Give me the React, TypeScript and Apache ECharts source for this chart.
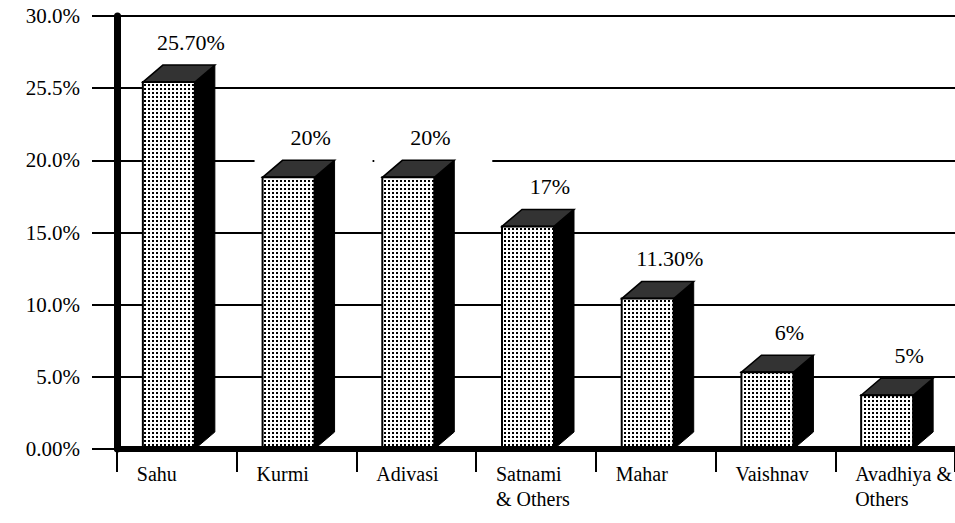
import React, { useEffect, useRef } from "react";
import * as echarts from "echarts";

const categories = ["Sahu", "Kurmi", "Adivasi", "Satnami\n& Others", "Mahar", "Vaishnav", "Avadhiya &\nOthers"];
const barValues = [26.6, 20, 20, 16.6, 11.6, 6.5, 4.9];
const valueLabels = ["25.70%", "20%", "20%", "17%", "11.30%", "6%", "5%"];
const yTickLabels = ["0.00%", "5.0%", "10.0%", "15.0%", "20.0%", "25.5%", "30.0%"];
const maskedLabelCategories = ["Kurmi", "Adivasi"];

const FONT = "Liberation Serif";

export default function App() {
  const ref = useRef<HTMLDivElement>(null);
  useEffect(() => {
    if (!ref.current) return;
    const chart = echarts.init(ref.current, undefined, { renderer: "svg" });

    const cv = document.createElement("canvas");
    cv.width = 4;
    cv.height = 4;
    const ctx = cv.getContext("2d")!;
    ctx.fillStyle = "#ffffff";
    ctx.fillRect(0, 0, 4, 4);
    ctx.fillStyle = "#000000";
    ctx.fillRect(0, 0, 2, 2);
    const pattern: any = { image: cv, repeat: "repeat", imageWidth: 4, imageHeight: 4 };

    const W = 52, DX = 20, DY = 17, OFF = -34;

    const option: any = {
      animation: false,
      backgroundColor: "#ffffff",
      textStyle: { fontFamily: FONT },
      grid: { left: 117, right: 0, top: 16, bottom: 74 },
      xAxis: {
        type: "category",
        data: categories,
        z: 10,
        axisLine: { show: true, lineStyle: { color: "#000", width: 6 } },
        axisTick: { show: true, length: 23, lineStyle: { color: "#000", width: 2 } },
        axisLabel: {
          interval: 0,
          margin: 12,
          color: "#000",
          fontFamily: FONT,
          fontSize: 20,
          formatter: (v: string) => v.split("\n").map((s) => `{a|${s}}`).join("\n"),
          rich: {
            a: { width: 80, align: "left", fontSize: 20, fontFamily: FONT, color: "#000", lineHeight: 25 },
          },
        },
        splitLine: { show: false },
      },
      yAxis: {
        type: "value",
        min: 0,
        max: 30,
        interval: 5,
        axisLine: { show: true, lineStyle: { color: "#000", width: 7 } },
        axisTick: { show: true, length: 25, lineStyle: { color: "#000", width: 2 } },
        axisLabel: {
          margin: 37,
          color: "#000",
          fontSize: 21,
          fontFamily: FONT,
          formatter: (v: number) => yTickLabels[Math.round(v / 5)] ?? "",
        },
        splitLine: { show: true, lineStyle: { color: "#000", width: 2 } },
      },
      series: [
        {
          type: "custom",
          data: barValues.map((v, i) => [i, v]),
          encode: { x: 0, y: 1 },
          renderItem: (params: any, api: any) => {
            const idx = params.dataIndex;
            const [cx, yBack] = api.coord([api.value(0), api.value(1)]);
            const [, y0] = api.coord([api.value(0), 0]);
            const fl = cx + OFF;
            const ft = yBack + DY;
            const fb = y0;
            const children: any[] = [];
            const catName = categories[idx];
            if (maskedLabelCategories.includes(catName)) {
              children.push({
                type: "rect",
                shape: { x: cx - 42, y: yBack - 38, width: 118, height: 40 },
                style: { fill: "#ffffff" },
              });
            }
            children.push({
              type: "polygon",
              shape: { points: [[fl + W, ft], [fl + W + DX, ft - DY], [fl + W + DX, fb - DY], [fl + W, fb]] },
              style: { fill: "#000", stroke: "#000", lineWidth: 1 },
            });
            children.push({
              type: "polygon",
              shape: { points: [[fl, ft], [fl + DX, ft - DY], [fl + W + DX, ft - DY], [fl + W, ft]] },
              style: { fill: "#333333", stroke: "#000", lineWidth: 1.5 },
            });
            children.push({
              type: "rect",
              shape: { x: fl, y: ft, width: W, height: fb - ft },
              style: { fill: pattern, stroke: "#000", lineWidth: 2 },
            });
            children.push({
              type: "text",
              x: cx + 14,
              y: yBack - 23,
              style: {
                text: valueLabels[idx],
                fontSize: 22,
                fontFamily: FONT,
                fill: "#000",
                align: "center",
                verticalAlign: "middle",
              },
            });
            return { type: "group", children };
          },
        },
      ],
    };
    chart.setOption(option);
    return () => chart.dispose();
  }, []);
  return (
    <div
      ref={ref}
      style={{ position: "fixed", left: 0, top: 0, width: 955, height: 523, background: "#fff" }}
    />
  );
}
